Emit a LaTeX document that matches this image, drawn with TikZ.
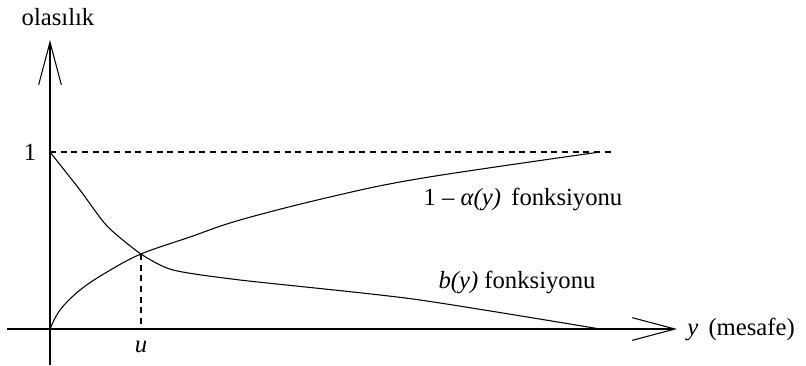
\documentclass[tikz,border=0pt]{standalone}
\usepackage{fontspec}
\setmainfont{Liberation Serif}
\usetikzlibrary{arrows.meta}
\tikzset{axis/.style={line width=1pt, -{Straight Barb[length=32pt, width=17pt, line width=0.8pt]}},
curve/.style={line width=0.8pt},
guide/.style={line width=0.8pt, dash pattern=on 4.5pt off 3.5pt},
lbl/.style={inner sep=0pt, font=\fontsize{18.5pt}{20pt}\selectfont}}

\begin{document}
\begin{tikzpicture}[x=0.75pt, y=-0.75pt]
\useasboundingbox (0,0) rectangle (806,365);
\coordinate (o) at (50,329);
\coordinate (one) at (50,152);
\coordinate (yend) at (50,40);
\coordinate (xend) at (677,329);
\coordinate (xstart) at (7,329);
\coordinate (ybot) at (50,365);
\coordinate (cut) at (141,254);
\coordinate (top) at (600,152);
\coordinate (bend) at (600,329);
\coordinate (dend) at (613,152);
% axes
\draw [axis] (ybot) -- (yend);
\draw [axis] (xstart) -- (xend);
% guides
\draw [guide] (one) -- (dend);
\draw [guide] (cut) -- (cut |- o);
% 1 - alpha(y)
\draw [curve] plot [smooth, tension=0.6] coordinates {(o) (60,310) (80,290) (107,272) (cut) (190,237) (240,220) (330,197) (423,178) (top)};
% b(y)
\draw [curve] plot [smooth, tension=0.4] coordinates {(one) (80,190) (107,226) (cut) (173,270) (240,280) (413,299) (bend)};
% labels
\node (ylab) [lbl] at (58,17) {olasılık};
\node (onelab) [lbl] at (30,152) {1};
\node (ulab) [lbl] at (141,347) {\textit{u}};
\node (xlab) [lbl, anchor=west] at (687,329) {\textit{y}\, (mesafe)};
\node (alab) [lbl] at (523,199) {1 – \textit{α(y)}\, fonksiyonu};
\node (blab) [lbl] at (517,282) {\textit{b(y)} fonksiyonu};
\end{tikzpicture}
\end{document}
